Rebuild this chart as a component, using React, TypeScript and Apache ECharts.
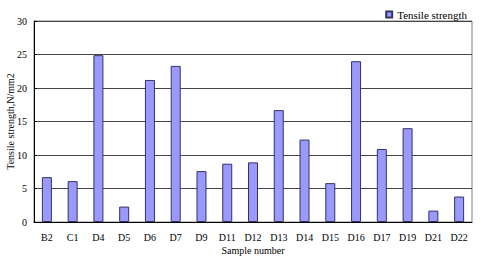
import React, { useEffect, useRef } from "react";
import * as echarts from "echarts";

const categories = ["B2", "C1", "D4", "D5", "D6", "D7", "D9", "D11", "D12", "D13", "D14", "D15", "D16", "D17", "D19", "D21", "D22"];
const tensileStrength = [6.7, 6.1, 24.9, 2.3, 21.2, 23.3, 7.6, 8.7, 8.9, 16.7, 12.3, 5.8, 24.0, 10.9, 14.0, 1.7, 3.8];
const yTicks = { min: 0, max: 30, interval: 5 };

export default function App() {
  const ref = useRef<HTMLDivElement>(null);
  useEffect(() => {
    const chart = echarts.init(ref.current!, undefined, { renderer: "svg" });
    const font = "Liberation Serif";
    chart.setOption({
      animation: false,
      textStyle: { fontFamily: font },
      legend: {
        data: ["Tensile strength"],
        right: 8,
        top: 4,
        itemWidth: 6,
        itemHeight: 6,
        itemGap: 4,
        textStyle: { fontFamily: font, fontSize: 11, color: "#000" },
        icon: "rect",
      },
      grid: { left: 34, right: 8, top: 21, bottom: 36, containLabel: false, outerBoundsMode: "none", show: true, borderColor: "#808080", borderWidth: 1 },
      xAxis: {
        type: "category",
        data: categories,
        name: "Sample number",
        nameLocation: "middle",
        nameGap: 23,
        nameMoveOverlap: false,
        nameTextStyle: { fontFamily: font, fontSize: 10, color: "#000" },
        axisLine: { lineStyle: { color: "#000", width: 1 } },
        axisTick: { inside: true, length: 3, lineStyle: { color: "#000" } },
        axisLabel: { fontFamily: font, fontSize: 10, color: "#000", margin: 10, interval: 0 },
      },
      yAxis: {
        type: "value",
        min: yTicks.min,
        max: yTicks.max,
        interval: yTicks.interval,
        name: "Tensile strength,N/mm2",
        nameLocation: "middle",
        nameGap: 19,
        nameMoveOverlap: false,
        nameTextStyle: { fontFamily: font, fontSize: 10, color: "#000" },
        axisLine: { show: true, lineStyle: { color: "#000", width: 1 } },
        axisTick: { show: true, inside: true, length: 3, lineStyle: { color: "#000" } },
        axisLabel: { fontFamily: font, fontSize: 10, color: "#000", margin: 7 },
        splitLine: { lineStyle: { color: "#444", width: 1 } },
      },
      series: [
        {
          name: "Tensile strength",
          type: "bar",
          data: tensileStrength,
          barWidth: 10,
          itemStyle: { color: "#9999ff", borderColor: "#333366", borderWidth: 1 },
        },
      ],
    });
    return () => chart.dispose();
  }, []);
  return <div ref={ref} style={{ width: 480, height: 258, position: "absolute", left: 0, top: 0 }} />;
}
